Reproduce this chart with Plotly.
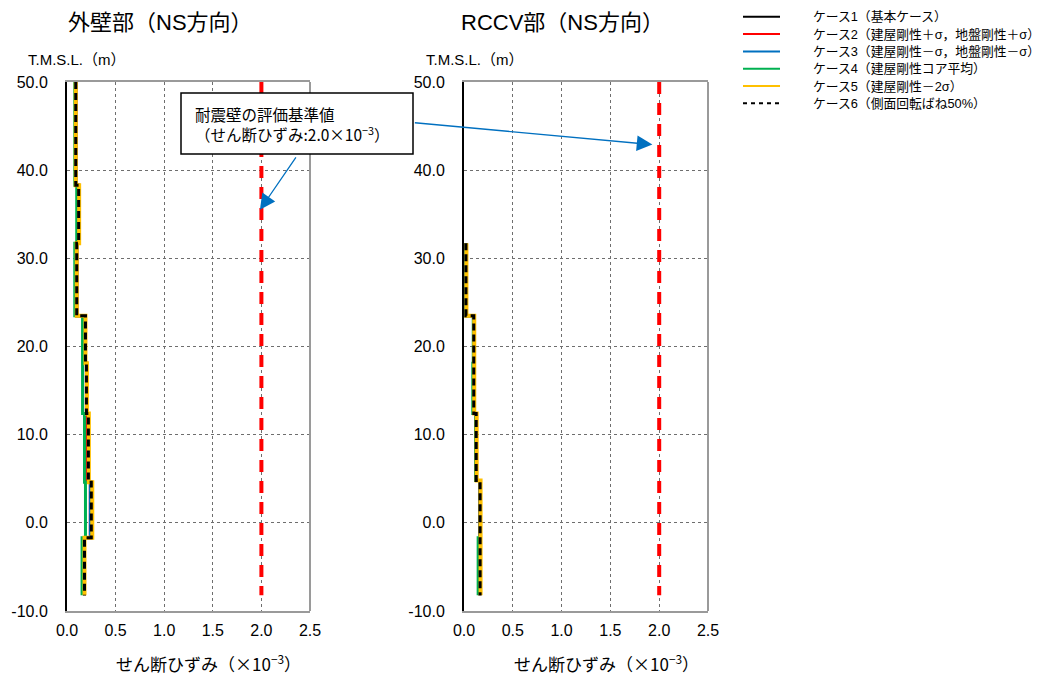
import plotly.graph_objects as go

W, H = 1061, 677
FONT = "Liberation Sans, Noto Sans CJK JP"
CJK = "Noto Sans CJK JP"

# ---------------- data ----------------
elev_outer = [50.0, 38.3, 31.7, 23.5, 18.1, 12.4, 4.6, -1.7, -8.2]
outer_case1 = [0.09, 0.12, 0.10, 0.19, 0.20, 0.22, 0.25, 0.18]
outer_case2 = [0.09, 0.12, 0.10, 0.18, 0.20, 0.21, 0.24, 0.18]
outer_case3 = [0.09, 0.12, 0.10, 0.19, 0.20, 0.22, 0.24, 0.18]
outer_case4 = [0.08, 0.10, 0.08, 0.16, 0.16, 0.18, 0.19, 0.155]
outer_case5 = [0.09, 0.125, 0.10, 0.19, 0.205, 0.225, 0.26, 0.18]
outer_case6 = [0.09, 0.12, 0.10, 0.19, 0.20, 0.22, 0.25, 0.18]

elev_rccv = [31.7, 23.5, 18.1, 12.4, 4.8, -1.7, -8.2]
rccv_case1 = [0.02, 0.10, 0.10, 0.125, 0.165, 0.165]
rccv_case2 = [0.02, 0.10, 0.10, 0.12, 0.16, 0.16]
rccv_case3 = [0.02, 0.10, 0.10, 0.125, 0.165, 0.165]
rccv_case4 = [0.02, 0.095, 0.09, 0.12, 0.165, 0.145]
rccv_case5 = [0.025, 0.105, 0.105, 0.13, 0.17, 0.17]
rccv_case6 = [0.02, 0.10, 0.10, 0.125, 0.165, 0.165]

criterion_value = 2.0
criterion_elev = [50.0, -8.2]

case_names = [
    "ケース1（基本ケース）",
    "ケース2（建屋剛性＋σ，地盤剛性＋σ）",
    "ケース3（建屋剛性－σ，地盤剛性－σ）",
    "ケース4（建屋剛性コア平均）",
    "ケース5（建屋剛性－2σ）",
    "ケース6（側面回転ばね50%）",
]
case_colors = ["#000000", "#FF0000", "#0070C0", "#00B050", "#FFC000", "#000000"]
case_dash = ["solid", "solid", "solid", "solid", "solid", "7px,4px"]
case_width = [3, 3, 3, 3, 4, 3]

x_ticks = [0.0, 0.5, 1.0, 1.5, 2.0, 2.5]
y_ticks = [50.0, 40.0, 30.0, 20.0, 10.0, 0.0, -10.0]

titles = ["外壁部（NS方向）", "RCCV部（NS方向）"]
y_title = "T.M.S.L.（m）"
x_title = "せん断ひずみ（×10<sup>−3</sup>）"
note_text = "耐震壁の評価基準値<br>（せん断ひずみ:2.0×10<sup>−3</sup>）"

outer_cases = [outer_case1, outer_case2, outer_case3, outer_case4, outer_case5, outer_case6]
rccv_cases = [rccv_case1, rccv_case2, rccv_case3, rccv_case4, rccv_case5, rccv_case6]

# ---------------- layout helpers (pixel -> paper) ----------------
def px(x):
    return x / W

def py(y):
    return 1 - y / H

fig = go.Figure()

def add_profile(vals, elev, i, xa, ya):
    xs = list(vals) + [vals[-1]]
    fig.add_trace(go.Scatter(
        x=xs, y=elev, mode="lines", line_shape="vh",
        line=dict(color=case_colors[i], width=case_width[i], dash=case_dash[i]),
        xaxis=xa, yaxis=ya, showlegend=False, hoverinfo="skip"))

for xa, ya, cases, elev in [("x", "y", outer_cases, elev_outer), ("x2", "y2", rccv_cases, elev_rccv)]:
    fig.add_trace(go.Scatter(
        x=[criterion_value] * len(criterion_elev), y=criterion_elev, mode="lines",
        line=dict(color="#FF0000", width=4, dash="12px,9px"),
        xaxis=xa, yaxis=ya, showlegend=False, hoverinfo="skip"))
    for i, vals in enumerate(cases):
        add_profile(vals, elev, i, xa, ya)

axis_common = dict(
    range=[0, 2.5], tickvals=x_ticks, ticktext=[f"{v:.1f}" for v in x_ticks],
    showgrid=True, gridcolor="#6e6e6e", griddash="dot", gridwidth=1,
    showline=True, linecolor="#9a9a9a", linewidth=2, mirror=True,
    zeroline=False, ticks="", ticklabelstandoff=4, automargin=False,
    tickfont=dict(family=FONT, size=16, color="#000"),
)
yaxis_common = dict(
    range=[-10, 50], tickvals=y_ticks, ticktext=[f"{v:.1f}" for v in y_ticks],
    showgrid=True, gridcolor="#6e6e6e", griddash="dot", gridwidth=1,
    showline=True, linecolor="#000000", linewidth=2, mirror=False,
    zeroline=False, ticks="", ticklabelstandoff=14, automargin=False,
    tickfont=dict(family=FONT, size=16, color="#000"),
)

y_dom = [py(611), py(82)]
fig.update_layout(
    width=W, height=H, margin=dict(l=0, r=0, t=0, b=0, autoexpand=False),
    paper_bgcolor="white", plot_bgcolor="white",
    xaxis=dict(domain=[px(67), px(310)], anchor="y", **axis_common),
    yaxis=dict(domain=y_dom, anchor="x", **yaxis_common),
    xaxis2=dict(domain=[px(464), px(708)], anchor="y2", **axis_common),
    yaxis2=dict(domain=y_dom, anchor="x2", **yaxis_common),
    showlegend=False,
)

shapes = []
for xr, yr in [("x domain", "y domain"), ("x2 domain", "y2 domain")]:
    shapes.append(dict(type="line", xref=xr, yref=yr, x0=1, x1=1, y0=0, y1=1,
                       line=dict(color="#9a9a9a", width=2), layer="above"))

annotations = []
for t, cx in zip(titles, [160, 562]):
    annotations.append(dict(text=t, x=px(cx), y=py(22), xref="paper", yref="paper",
                            showarrow=False, xanchor="center", yanchor="middle",
                            font=dict(family=FONT, size=22, color="#000")))
for lx in [26, 424]:
    annotations.append(dict(text=y_title, x=px(lx), y=py(60), xref="paper", yref="paper",
                            showarrow=False, xanchor="left", yanchor="middle",
                            font=dict(family=FONT, size=15, color="#000")))
for cx in [208, 606]:
    annotations.append(dict(text=x_title, x=px(cx), y=py(663), xref="paper", yref="paper",
                            showarrow=False, xanchor="center", yanchor="middle",
                            font=dict(family=CJK, size=17, color="#000")))

leg_y0, leg_dy = 16.8, 17.3
for i, name in enumerate(case_names):
    yy = leg_y0 + i * leg_dy
    shapes.append(dict(type="line", xref="paper", yref="paper",
                       x0=px(743), x1=px(780), y0=py(yy), y1=py(yy),
                       line=dict(color=case_colors[i], width=2,
                                 dash="4px,4px" if i == 5 else "solid")))
    annotations.append(dict(text=name, x=px(811), y=py(yy), xref="paper", yref="paper",
                            showarrow=False, xanchor="left", yanchor="middle",
                            font=dict(family=FONT, size=12.8, color="#000")))

shapes.append(dict(type="rect", xref="paper", yref="paper",
                   x0=px(181), x1=px(413), y0=py(93), y1=py(154),
                   line=dict(color="#000", width=1.5), fillcolor="white", layer="above"))
annotations.append(dict(text=note_text, x=px(193), y=py(124), xref="paper", yref="paper",
                        showarrow=False, xanchor="left", yanchor="middle", align="left",
                        font=dict(family=CJK, size=15.5, color="#000")))

arrow_style = dict(showarrow=True, arrowhead=2, arrowsize=2.4, arrowwidth=1.3,
                   arrowcolor="#0070C0", standoff=0, text="")
annotations.append(dict(x=1.985, y=35.5, xref="x", yref="y",
                        ax=297 - 260, ay=156 - 210, **arrow_style))
annotations.append(dict(x=1.93, y=42.9, xref="x2", yref="y2",
                        ax=413 - 652, ay=123 - 145, **arrow_style))

fig.update_layout(shapes=shapes, annotations=annotations)
fig.write_html("out.html", config={"displayModeBar": False},
               post_script="document.body.style.margin='0';document.body.style.padding='0';")
